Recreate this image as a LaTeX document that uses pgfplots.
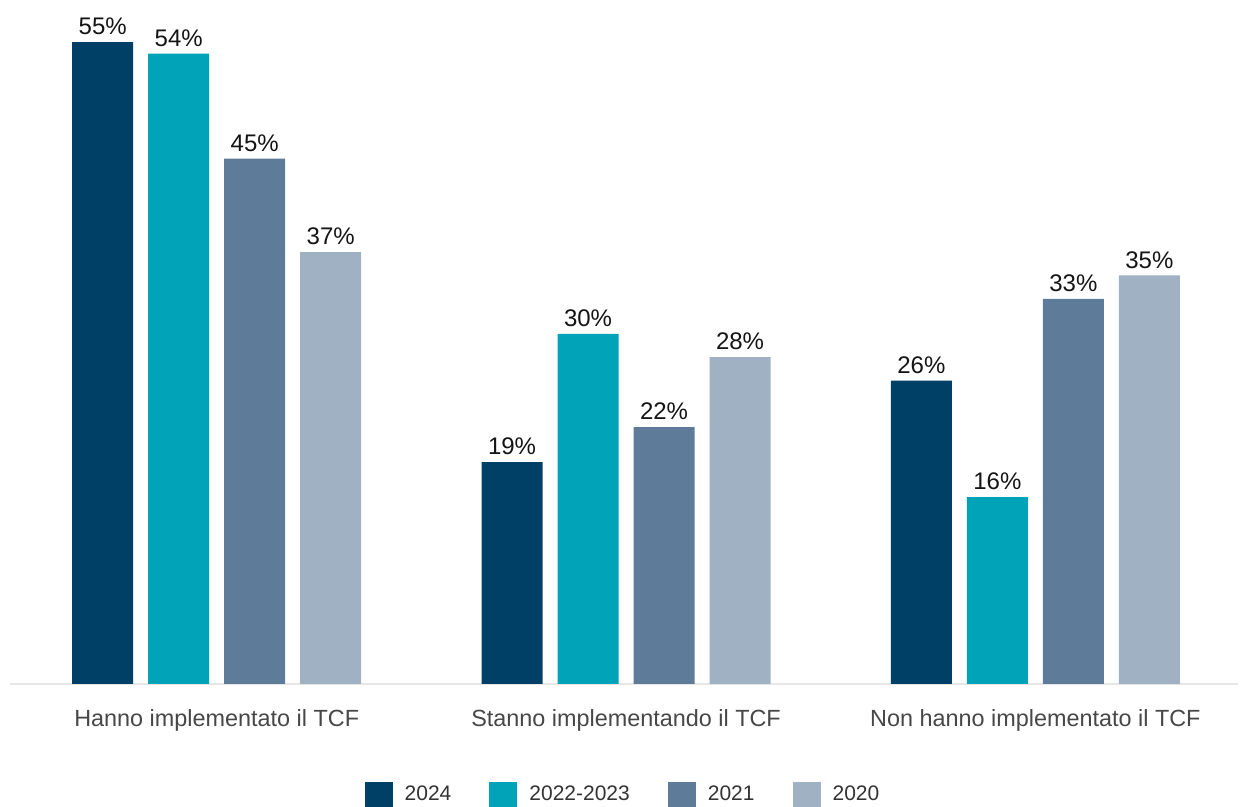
\documentclass[border=0pt]{standalone}
\usepackage{fontspec}
\setmainfont{Liberation Sans}
\usepackage{pgfplots}
\pgfplotsset{compat=1.18}
\definecolor{c24}{HTML}{003F66}
\definecolor{c22}{HTML}{00A3B8}
\definecolor{c21}{HTML}{5E7B99}
\definecolor{c20}{HTML}{A0B1C4}
\definecolor{axisgray}{HTML}{E6E6E6}
\begin{document}
\begin{tikzpicture}
\begin{axis}[
  scale only axis,
  width=614pt, height=342pt,
  xmin=-0.505, xmax=2.495, ymin=0, ymax=58.6,
  ybar=7.5pt, bar width=30.5pt,
  axis x line*=bottom, axis y line=none,
  x axis line style={axisgray, line width=1pt},
  xtick={0,1,2}, major tick length=0pt,
  xticklabels={Hanno implementato il TCF, Stanno implementando il TCF, Non hanno implementato il TCF},
  xticklabel style={font=\fontsize{11.7}{13}\selectfont, text=black!72, yshift=-9pt},
  /pgf/number format/assume math mode=true,
  nodes near coords={\pgfmathprintnumber{\pgfplotspointmeta}\%},
  nodes near coords style={font=\fontsize{12}{14}\selectfont, text=black!92},
  point meta=y,
  legend columns=4,
  legend style={draw=none, at={(0.5,-0.162)}, anchor=center,
    font=\fontsize{10.5}{12}\selectfont, text=black!80,
    /tikz/every even column/.append style={column sep=17pt}},
  legend image code/.code={\fill[#1] (0pt,-6.5pt) rectangle (14pt,6.5pt); \path (18pt,0pt);},
]
\addplot[fill=c24, draw=none] coordinates {(0,55) (1,19) (2,26)};
\addplot[fill=c22, draw=none] coordinates {(0,54) (1,30) (2,16)};
\addplot[fill=c21, draw=none] coordinates {(0,45) (1,22) (2,33)};
\addplot[fill=c20, draw=none] coordinates {(0,37) (1,28) (2,35)};
\legend{2024, 2022-2023, 2021, 2020}
\coordinate (bl) at (rel axis cs:0,0);
\coordinate (tr) at (rel axis cs:1,1);
\end{axis}
\pgfresetboundingbox
\path ([shift={(-5pt,-61.5pt)}]bl) rectangle ([shift={(1.5pt,0pt)}]tr);
\end{tikzpicture}
\end{document}
